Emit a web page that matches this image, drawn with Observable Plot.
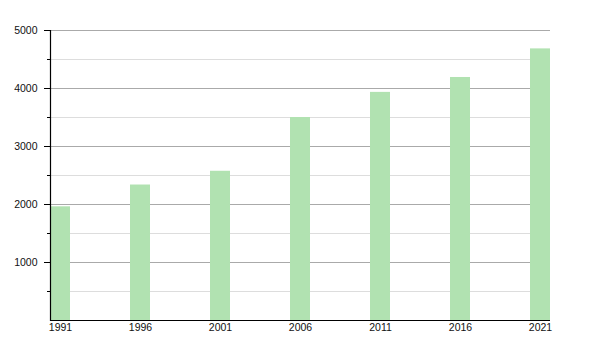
<!DOCTYPE html>
<html>
<head>
<meta charset="utf-8">
<script src="https://cdn.jsdelivr.net/npm/d3@7"></script>
<script src="https://cdn.jsdelivr.net/npm/@observablehq/plot@0.6"></script>
<style>
  html, body { margin: 0; padding: 0; background: #fff; }
  #chart svg { display: block; }
</style>
</head>
<body>
<div id="chart"></div>
<script>
const years = ["1991", "1996", "2001", "2006", "2011", "2016", "2021"];
const population = [1960, 2336, 2573, 3500, 3933, 4190, 4683];
const yMajorTicks = [1000, 2000, 3000, 4000, 5000];
const yMinorTicks = [500, 1500, 2500, 3500, 4500];

const data = years.map((year, i) => ({ year, value: population[i] }));

const chart = Plot.plot({
  width: 600,
  height: 350,
  marginLeft: 50,
  marginRight: 50,
  marginTop: 30,
  marginBottom: 30,
  style: { fontFamily: "'Liberation Sans', Arial, sans-serif", fontSize: "10.5px", color: "#111", background: "#fff" },
  x: { type: "band", domain: years, paddingInner: 0.75, paddingOuter: 0, align: 0.5, label: null },
  y: { domain: [0, 5000], label: null },
  marks: [
    Plot.gridY(yMinorTicks, { stroke: "#dddddd", strokeOpacity: 1 }),
    Plot.gridY(yMajorTicks, { stroke: "#aaaaaa", strokeOpacity: 1 }),
    Plot.barY(data, { x: "year", y: "value", fill: "#b1e2b1" }),
    Plot.axisY(yMinorTicks, { tickSize: 3, text: null, stroke: "#000" }),
    Plot.axisY(yMajorTicks, { tickSize: 6, tickPadding: 7, tickFormat: d => String(d), stroke: "#000", fill: "#111", label: null }),
    Plot.axisX(years, { tickSize: 0, tickPadding: 3, fill: "#111", label: null }),
    Plot.ruleY([0], { stroke: "#000", strokeWidth: 1.2 }),
    Plot.frame({ anchor: "left", stroke: "#000", strokeWidth: 1.2 })
  ]
});

document.getElementById("chart").appendChild(chart);
</script>
</body>
</html>
